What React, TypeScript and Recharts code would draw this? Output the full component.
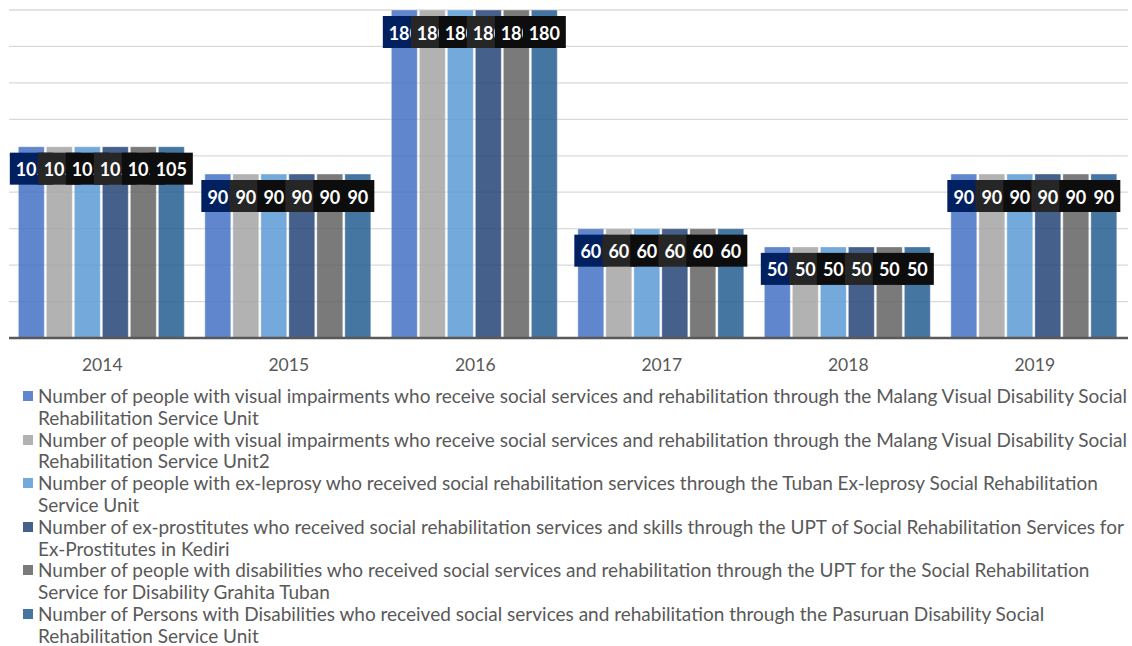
import React from "react";
import { BarChart, Bar, XAxis, YAxis, CartesianGrid, LabelList } from "recharts";

const categories = ["2014", "2015", "2016", "2017", "2018", "2019"];
const series1 = [105, 90, 180, 60, 50, 90];
const series2 = [105, 90, 180, 60, 50, 90];
const series3 = [105, 90, 180, 60, 50, 90];
const series4 = [105, 90, 180, 60, 50, 90];
const series5 = [105, 90, 180, 60, 50, 90];
const series6 = [105, 90, 180, 60, 50, 90];
const yTicks = [0, 20, 40, 60, 80, 100, 120, 140, 160, 180];

const seriesNames = [
  "Number of people with visual impairments who receive social services and rehabilitation through the Malang Visual Disability Social Rehabilitation Service Unit",
  "Number of people with visual impairments who receive social services and rehabilitation through the Malang Visual Disability Social Rehabilitation Service Unit2",
  "Number of people with ex-leprosy who received social rehabilitation services through the Tuban Ex-leprosy Social Rehabilitation Service Unit",
  "Number of ex-prostitutes who received social rehabilitation services and skills through the UPT of Social Rehabilitation Services for Ex-Prostitutes in Kediri",
  "Number of people with disabilities who received social services and rehabilitation through the UPT for the Social Rehabilitation Service for Disability Grahita Tuban",
  "Number of Persons with Disabilities who received social services and rehabilitation through the Pasuruan Disability Social Rehabilitation Service Unit",
];
const legendLines = [
  ["Number of people with visual impairments who receive social services and rehabilitation through the Malang Visual Disability Social", "Rehabilitation Service Unit"],
  ["Number of people with visual impairments who receive social services and rehabilitation through the Malang Visual Disability Social", "Rehabilitation Service Unit2"],
  ["Number of people with ex-leprosy who received social rehabilitation services through the Tuban Ex-leprosy Social Rehabilitation", "Service Unit"],
  ["Number of ex-prostitutes who received social rehabilitation services and skills through the UPT of Social Rehabilitation Services for", "Ex-Prostitutes in Kediri"],
  ["Number of people with disabilities who received social services and rehabilitation through the UPT for the Social Rehabilitation", "Service for Disability Grahita Tuban"],
  ["Number of Persons with Disabilities who received social services and rehabilitation through the Pasuruan Disability Social", "Rehabilitation Service Unit"],
];
const seriesColors = ["#4472C4", "#A5A5A5", "#5B9BD5", "#264478", "#636363", "#255E91"];
const labelBoxColors = ["#002060", "#262626", "#0D0D0D", "#262626", "#0D0D0D", "#0D0D0D"];

const allSeries = [series1, series2, series3, series4, series5, series6];
const data = categories.map((c, i) => {
  const row: any = { year: c };
  allSeries.forEach((s, k) => {
    row["s" + k] = s[i];
  });
  return row;
});

const FONT = "Lato, 'Open Sans', sans-serif";

const makeLabel = (boxColor: string) => (props: any) => {
  const { x, y, width, value } = props;
  const txt = String(value);
  const w = txt.length * 10 + 13;
  const cx = Number(x) + Number(width) / 2;
  const top = Number(y) + 6;
  return (
    <g>
      <rect x={cx - w / 2} y={top} width={w} height={32} fill={boxColor} />
      <text
        x={cx}
        y={top + 16.5}
        textAnchor="middle"
        dominantBaseline="central"
        fill="#ffffff"
        fontFamily={FONT}
        fontWeight={700}
        fontSize={18}
      >
        {txt}
      </text>
    </g>
  );
};

export default function App() {
  return (
    <div style={{ position: "absolute", left: 0, top: 0, width: 1132, height: 646, background: "#fff", fontFamily: FONT }}>
      <BarChart
        width={1132}
        height={380}
        data={data}
        margin={{ top: 10, right: 4, left: 9, bottom: 0 }}
        barCategoryGap="5%"
        barGap={2}
      >
        <CartesianGrid vertical={false} stroke="#d9d9d9" strokeWidth={1.3} />
        <YAxis hide domain={[0, 180]} ticks={yTicks} />
        <XAxis
          dataKey="year"
          height={42}
          axisLine={{ stroke: "#595959", strokeWidth: 2.5 }}
          tickLine={false}
          tickSize={0}
          tickMargin={21}
          tick={{ fill: "#595959", fontSize: 17.5, fontFamily: FONT }}
        />
        {seriesColors.map((col, k) => (
          <Bar
            key={k}
            dataKey={"s" + k}
            name={seriesNames[k]}
            fill={col}
            fillOpacity={0.85}
            stroke="#ffffff"
            strokeOpacity={0.4}
            strokeWidth={1}
            isAnimationActive={false}
          >
            <LabelList dataKey={"s" + k} content={makeLabel(labelBoxColors[k])} />
          </Bar>
        ))}
      </BarChart>
      <div style={{ position: "absolute", left: 0, top: 385, width: 1132 }}>
        {legendLines.map((lines, k) => (
          <div key={k} style={{ position: "relative", height: 43.6 }}>
            <div
              style={{
                position: "absolute",
                left: 23,
                top: 6,
                width: 10,
                height: 10,
                background: seriesColors[k],
                opacity: 0.85,
              }}
            />
            <div
              style={{
                position: "absolute",
                left: 38,
                top: 0,
                whiteSpace: "nowrap",
                fontSize: 19,
                lineHeight: "21.8px",
                color: "#595959",
                fontFamily: FONT,
              }}
            >
              <div>{lines[0]}</div>
              <div>{lines[1]}</div>
            </div>
          </div>
        ))}
      </div>
    </div>
  );
}
